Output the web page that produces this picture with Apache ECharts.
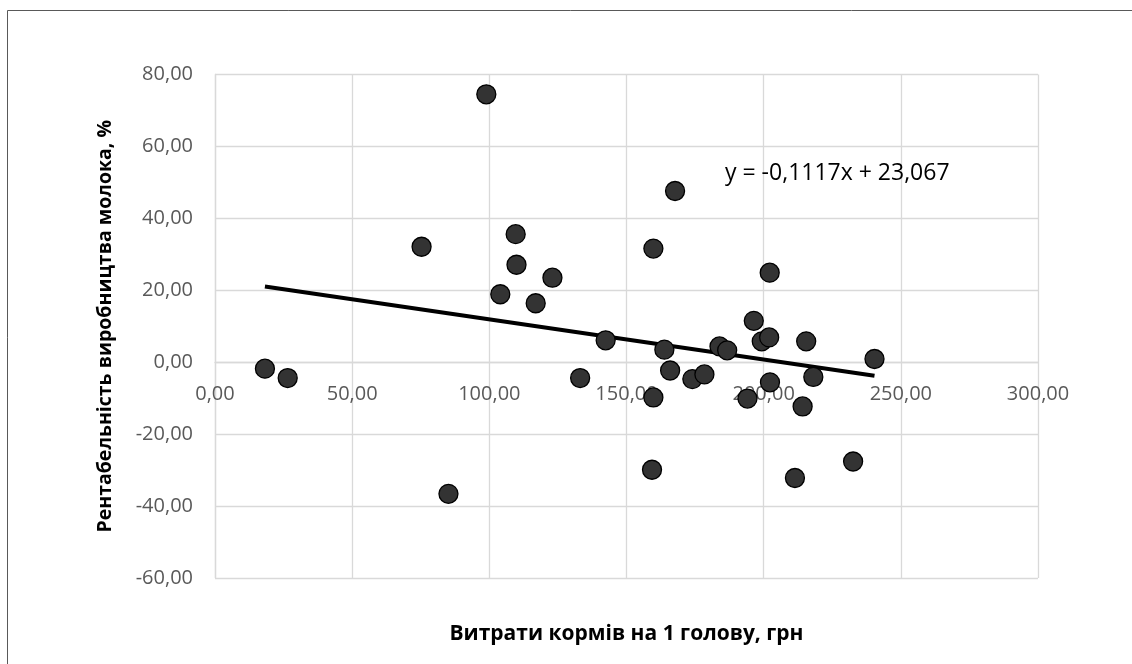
<!DOCTYPE html>
<html>
<head>
<meta charset="utf-8">
<script src="https://cdn.jsdelivr.net/npm/echarts@6/dist/echarts.min.js"></script>
<style>
  html, body { margin: 0; padding: 0; background: #fff; }
  #chart { width: 1132px; height: 664px; }
</style>
</head>
<body>
<div id="chart"></div>
<script>
// Feed costs per head (UAH) and milk production profitability (%)
const feedCost = [18.2, 26.5, 75.3, 85.1, 98.9, 104.0, 109.6, 109.9, 116.9, 123.0, 133.1, 142.4, 159.8, 159.8, 159.3, 163.8, 165.9, 167.7, 174.0, 178.4, 183.9, 186.7, 194.1, 196.4, 199.3, 202.0, 202.3, 202.2, 211.4, 214.2, 215.5, 218.1, 232.6, 240.4];
const profitability = [-1.8, -4.4, 32.1, -36.6, 74.5, 18.9, 35.6, 27.1, 16.4, 23.5, -4.4, 6.1, 31.6, -9.8, -29.9, 3.5, -2.3, 47.6, -4.7, -3.4, 4.4, 3.3, -10.1, 11.5, 5.8, 6.9, -5.6, 24.9, -32.2, -12.3, 5.8, -4.1, -27.6, 0.9];
const trendSlope = -0.1117;
const trendIntercept = 23.067;
const xTitle = 'Витрати кормів на 1 голову, грн';
const yTitle = 'Рентабельність виробництва молока, %';
const equationText = 'y = -0,1117x + 23,067';
const xRange = [0, 300, 50];
const yRange = [-60, 80, 20];

const points = feedCost.map((x, i) => [x, profitability[i]]);
const xMin = Math.min(...feedCost), xMax = Math.max(...feedCost);
const trend = [[xMin, trendSlope * xMin + trendIntercept], [xMax, trendSlope * xMax + trendIntercept]];
const fmt = v => v.toFixed(2).replace('.', ',');
const FONT = '"Open Sans", "Noto Sans", sans-serif';

const W = 1132, H = 664;
const G = { left: 215, right: 94, top: 74.5, bottom: 86 };
const gridH = H - G.top - G.bottom;
// move the x axis (line + labels) up to the y = 0 position
const zeroOffset = -gridH * (0 - yRange[0]) / (yRange[1] - yRange[0]);

const chart = echarts.init(document.getElementById('chart'), null, { renderer: 'canvas' });
chart.setOption({
  animation: false,
  backgroundColor: '#ffffff',
  grid: Object.assign({ containLabel: false, outerBoundsMode: 'none' }, G),
  xAxis: {
    type: 'value', min: xRange[0], max: xRange[1], interval: xRange[2],
    position: 'bottom', offset: zeroOffset,
    name: xTitle, nameLocation: 'middle', nameGap: 261,
    nameTextStyle: { fontFamily: FONT, fontSize: 21, fontWeight: 'bold', color: '#000' },
    axisLine: { show: true, onZero: false, lineStyle: { color: '#d9d9d9', width: 1.3 } },
    axisTick: { show: false },
    axisLabel: { formatter: fmt, fontFamily: FONT, fontSize: 20, color: '#595959', margin: 22 },
    splitLine: { show: true, lineStyle: { color: '#d9d9d9', width: 1.3 } }
  },
  yAxis: {
    type: 'value', min: yRange[0], max: yRange[1], interval: yRange[2],
    name: yTitle, nameLocation: 'middle', nameGap: 100, nameRotate: 90,
    nameTextStyle: { fontFamily: FONT, fontSize: 19.5, fontWeight: 'bold', color: '#000' },
    axisLine: { show: true, lineStyle: { color: '#d9d9d9', width: 1.3 } },
    axisTick: { show: false },
    axisLabel: { formatter: fmt, fontFamily: FONT, fontSize: 20, color: '#595959', margin: 22 },
    splitLine: { show: true, lineStyle: { color: '#d9d9d9', width: 1.3 } }
  },
  series: [
    {
      type: 'line', data: trend, showSymbol: false, symbol: 'none',
      lineStyle: { color: '#000', width: 4 }, z: 2, silent: true
    },
    {
      type: 'scatter', data: points, symbol: 'circle', symbolSize: 19,
      itemStyle: { color: '#333333', borderColor: '#000', borderWidth: 1.3, opacity: 1 }, z: 3
    }
  ],
  graphic: [
    { type: 'rect', shape: { x: 7.5, y: 10.5, width: 2000, height: 2000 },
      style: { fill: 'none', stroke: '#595959', lineWidth: 1 }, z: 0 },
    { type: 'text', x: 725, y: 173,
      style: { text: equationText, fontFamily: FONT, fontSize: 23, fill: '#000', verticalAlign: 'middle' }, z: 10 }
  ]
});
</script>
</body>
</html>
